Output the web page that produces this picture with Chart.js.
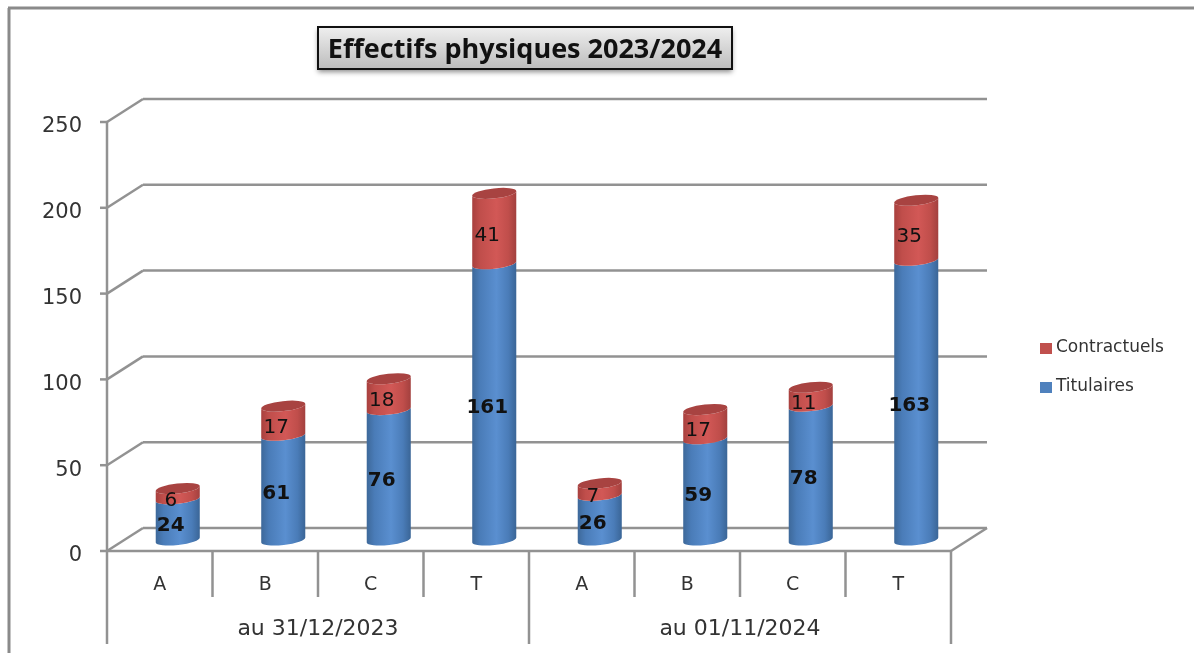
<!DOCTYPE html>
<html>
<head>
<meta charset="utf-8">
<title>Effectifs physiques 2023/2024</title>
<script src="https://cdn.jsdelivr.net/npm/chart.js@4/dist/chart.umd.min.js"></script>
<style>
  html, body { margin: 0; padding: 0; background: #fff; overflow: hidden; }
  canvas { display: block; }
</style>
</head>
<body>
<canvas id="effectifs" width="1194" height="653"></canvas>
<script>
const chartTitle = 'Effectifs physiques 2023/2024';
const categories = ['A', 'B', 'C', 'T', 'A', 'B', 'C', 'T'];
const groupLabels = ['au 31/12/2023', 'au 01/11/2024'];
const titulaires = [24, 61, 76, 161, 26, 59, 78, 163];
const contractuels = [6, 17, 18, 41, 7, 17, 11, 35];

const groupSize = 4;
const GRID = '#929292';
const TEXT = '#333333';
const FONT = '"DejaVu Sans", sans-serif';

// how far the back wall sits from the front plane
const wallX = 36;
const wallY = 23;
// bars stand halfway into the floor
const barX = 18;
const barY = 11;
const tilt = -0.11;
const capRy = 5;

const sideStops = [0, 0.18, 0.55, 0.82, 1];
const shades = {
  Titulaires: { side: ['#3d6899', '#4a7cb8', '#5a8fd0', '#4a7cb8', '#3a6596'], legend: '#4f81bd', labelFont: 'bold 20px ' + FONT, labelDy: 6 },
  Contractuels: { side: ['#a8403e', '#c04e4b', '#d25856', '#c04e4b', '#a2403e'], cap: '#a84341', legend: '#c0504d', labelFont: '20px ' + FONT, labelDy: 7 }
};

function line(ctx, x1, y1, x2, y2) {
  ctx.beginPath();
  ctx.moveTo(x1, y1);
  ctx.lineTo(x2, y2);
  ctx.stroke();
}

function drawWalls(chart) {
  const { ctx, chartArea: area, scales: { x, y } } = chart;
  ctx.save();
  ctx.strokeStyle = GRID;
  ctx.lineWidth = 2.5;

  y.ticks.forEach((tick) => {
    const py = y.getPixelForValue(tick.value);
    line(ctx, area.left - 7, py, area.left, py);
    line(ctx, area.left, py, area.left + wallX, py - wallY);
    line(ctx, area.left + wallX, py - wallY, area.right + wallX, py - wallY);
  });

  // floor front edge and right side
  line(ctx, area.left, area.bottom, area.right, area.bottom);
  line(ctx, area.right, area.bottom, area.right + wallX, area.bottom - wallY);
  line(ctx, area.left, area.top, area.left, 644);

  // separators under the axis, longer between the two dates
  const step = x.width / categories.length;
  categories.forEach((c, i) => {
    if (i === 0) return;
    const px = area.left + i * step;
    line(ctx, px, area.bottom, px, i % groupSize === 0 ? 644 : 597);
  });
  line(ctx, area.right, area.bottom, area.right, 644);
  ctx.restore();
}

function drawCylinder(ctx, bar, colors, withCap) {
  const cx = bar.x + barX;
  const rx = bar.width / 2;
  const top = bar.y - barY;
  const bottom = bar.base - barY;

  const grad = ctx.createLinearGradient(cx - rx, 0, cx + rx, 0);
  colors.side.forEach((c, i) => grad.addColorStop(sideStops[i], c));

  ctx.beginPath();
  ctx.ellipse(cx, bottom, rx, capRy, tilt, 0, Math.PI);
  ctx.ellipse(cx, top, rx, capRy, tilt, Math.PI, 0, true);
  ctx.closePath();
  ctx.fillStyle = grad;
  ctx.fill();

  if (withCap) {
    ctx.beginPath();
    ctx.ellipse(cx, top, rx, capRy, tilt, 0, Math.PI * 2);
    ctx.fillStyle = colors.cap;
    ctx.fill();
  }
}

function drawBarLabels(chart) {
  const { ctx } = chart;
  ctx.save();
  ctx.textAlign = 'center';
  ctx.textBaseline = 'middle';
  ctx.fillStyle = '#111';
  chart.data.datasets.forEach((ds, d) => {
    const shade = shades[ds.label];
    ctx.font = shade.labelFont;
    chart.getDatasetMeta(d).data.forEach((bar, i) => {
      ctx.fillText(String(ds.data[i]), bar.x + barX - 7, (bar.y + bar.base) / 2 - barY + shade.labelDy);
    });
  });
  ctx.restore();
}

const sheetPlugin = {
  id: 'sheet',
  beforeDraw(chart) {
    const { ctx, width } = chart;
    ctx.save();
    ctx.fillStyle = '#fff';
    ctx.fillRect(0, 0, width, chart.height);
    // outer frame runs off the right and bottom edges
    ctx.strokeStyle = '#8a8a8a';
    ctx.lineWidth = 3;
    line(ctx, 8, 8, width, 8);
    line(ctx, 9, 8, 9, chart.height);
    ctx.restore();
  },
  beforeDatasetsDraw(chart) {
    const { ctx } = chart;
    drawWalls(chart);
    ctx.save();
    const under = chart.getDatasetMeta(0).data;
    const over = chart.getDatasetMeta(1).data;
    under.forEach((bar, i) => {
      drawCylinder(ctx, bar, shades.Titulaires, false);
      drawCylinder(ctx, over[i], shades.Contractuels, true);
    });
    ctx.restore();
    drawBarLabels(chart);
    return false;
  },
  afterDraw(chart) {
    const { ctx, scales: { x } } = chart;
    ctx.save();

    // date row under the categories
    ctx.fillStyle = TEXT;
    ctx.font = '22px ' + FONT;
    ctx.textAlign = 'center';
    ctx.textBaseline = 'middle';
    const step = x.width / categories.length;
    groupLabels.forEach((label, g) => {
      ctx.fillText(label, x.left + step * groupSize * (g + 0.5), 629);
    });

    // legend, top series first
    ctx.font = '17px ' + FONT;
    ctx.textAlign = 'left';
    chart.data.datasets.slice().reverse().forEach((ds, i) => {
      const ly = 348 + i * 39;
      ctx.fillStyle = shades[ds.label].legend;
      ctx.fillRect(1040, ly - 5, 12, 11);
      ctx.fillStyle = TEXT;
      ctx.fillText(ds.label, 1056, ly);
    });

    // boxed title
    const bx = 318, by = 27, bw = 414, bh = 42;
    ctx.save();
    ctx.shadowColor = 'rgba(0,0,0,0.45)';
    ctx.shadowBlur = 5;
    ctx.shadowOffsetY = 3;
    const grad = ctx.createLinearGradient(0, by, 0, by + bh);
    grad.addColorStop(0, '#efefef');
    grad.addColorStop(1, '#bcbcbc');
    ctx.fillStyle = grad;
    ctx.fillRect(bx, by, bw, bh);
    ctx.restore();
    ctx.strokeStyle = '#111';
    ctx.lineWidth = 2;
    ctx.strokeRect(bx, by, bw, bh);
    ctx.fillStyle = '#111';
    ctx.font = 'bold 27px "Open Sans", sans-serif';
    ctx.textAlign = 'center';
    ctx.fillText(chartTitle, bx + bw / 2, by + bh / 2 + 2);

    ctx.restore();
  }
};

new Chart(document.getElementById('effectifs'), {
  type: 'bar',
  data: {
    labels: categories,
    datasets: [
      { label: 'Titulaires', data: titulaires, backgroundColor: '#4f81bd', stack: 'effectifs' },
      { label: 'Contractuels', data: contractuels, backgroundColor: '#c0504d', stack: 'effectifs' }
    ]
  },
  options: {
    responsive: false,
    animation: false,
    layout: { padding: { top: 122, right: 243, bottom: 0, left: 0 } },
    plugins: {
      legend: { display: false },
      title: { display: false },
      tooltip: { enabled: false }
    },
    scales: {
      x: {
        stacked: true,
        grid: { display: false, drawTicks: false },
        border: { display: false },
        afterFit(scale) { scale.height = 102; },
        ticks: { color: TEXT, padding: 23, font: { family: FONT, size: 19 }, maxRotation: 0, autoSkip: false }
      },
      y: {
        stacked: true,
        min: 0,
        max: 250,
        grid: { display: false, drawTicks: false },
        border: { display: false },
        afterFit(scale) { scale.width = 107; },
        ticks: { stepSize: 50, color: TEXT, padding: 25, labelOffset: 5, font: { family: FONT, size: 21 } }
      }
    },
    datasets: { bar: { categoryPercentage: 1, barPercentage: 0.42 } }
  },
  plugins: [sheetPlugin]
});
</script>
</body>
</html>
